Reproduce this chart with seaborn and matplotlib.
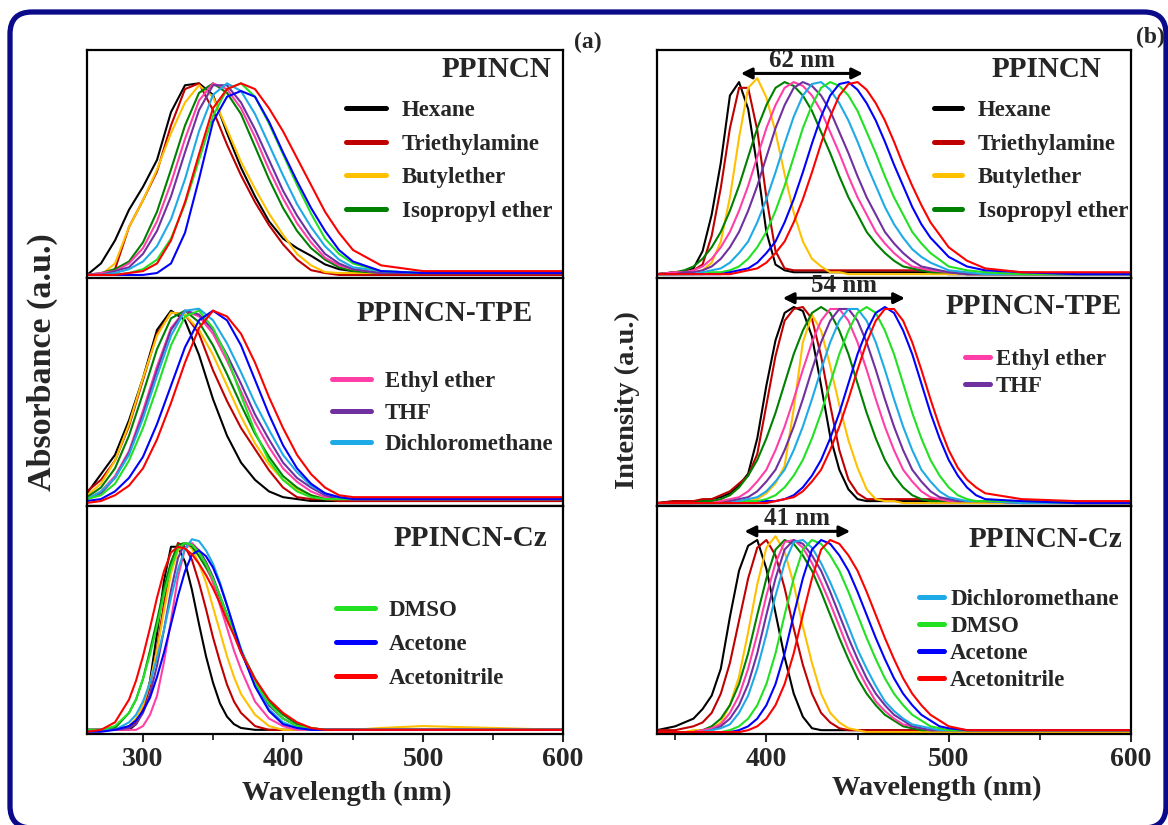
import matplotlib
matplotlib.use("Agg")
import matplotlib.pyplot as plt
import matplotlib.patches as mpatches
from matplotlib.lines import Line2D
from matplotlib.ticker import MultipleLocator
import pandas as pd
import seaborn as sns

solvents = ["Hexane", "Triethylamine", "Butylether", "Isopropyl ether", "Ethyl ether",
            "THF", "Dichloromethane", "DMSO", "Acetone", "Acetonitrile"]
colors = ["#000000", "#C00000", "#FFC000", "#008000", "#FF3EA8",
          "#7030A0", "#1EAAE6", "#22E022", "#0000FF", "#FF0000"]

# ---- absorption, PPINCN and PPINCN-TPE (nm) ----
abs_wl = [260, 270, 280, 290, 300, 310, 320, 330, 340, 350, 360, 370, 380, 390, 400,
          410, 420, 430, 440, 450, 470, 500, 550, 600]

abs_ppincn = {
    "Hexane": [0.0, 0.06, 0.18, 0.34, 0.46, 0.6, 0.85, 0.99, 1.0, 0.94, 0.74, 0.56, 0.41, 0.28, 0.19, 0.14, 0.1, 0.055, 0.03, 0.02, 0.01, 0.01, 0.01, 0.01],
    "Triethylamine": [0.0, 0.0, 0.03, 0.25, 0.39, 0.54, 0.78, 0.97, 1.0, 0.86, 0.68, 0.52, 0.38, 0.26, 0.16, 0.08, 0.025, 0.01, 0.0, 0.0, 0.0, 0.0, 0.0, 0.0],
    "Butylether": [0.0, 0.0, 0.06, 0.25, 0.39, 0.55, 0.74, 0.9, 0.99, 0.93, 0.76, 0.59, 0.45, 0.32, 0.21, 0.11, 0.05, 0.015, 0.01, 0.01, 0.01, 0.01, 0.01, 0.01],
    "Isopropyl ether": [0.0, 0.01, 0.03, 0.07, 0.17, 0.33, 0.55, 0.78, 0.95, 1.0, 0.95, 0.84, 0.67, 0.5, 0.35, 0.23, 0.14, 0.08, 0.04, 0.02, 0.01, 0.01, 0.01, 0.01],
    "Ethyl ether": [0.0, 0.01, 0.02, 0.06, 0.14, 0.28, 0.48, 0.71, 0.91, 1.0, 0.97, 0.87, 0.72, 0.55, 0.4, 0.27, 0.17, 0.09, 0.05, 0.03, 0.01, 0.01, 0.01, 0.01],
    "THF": [0.0, 0.0, 0.02, 0.04, 0.11, 0.23, 0.41, 0.64, 0.86, 0.99, 0.99, 0.9, 0.76, 0.6, 0.44, 0.31, 0.2, 0.11, 0.06, 0.03, 0.01, 0.01, 0.01, 0.01],
    "Dichloromethane": [0.0, 0.0, 0.01, 0.03, 0.07, 0.15, 0.29, 0.5, 0.75, 0.94, 1.0, 0.96, 0.84, 0.68, 0.52, 0.37, 0.25, 0.15, 0.08, 0.04, 0.02, 0.01, 0.01, 0.01],
    "DMSO": [0.0, 0.0, 0.0, 0.01, 0.03, 0.08, 0.19, 0.37, 0.6, 0.83, 0.97, 1.0, 0.93, 0.79, 0.63, 0.47, 0.32, 0.19, 0.11, 0.06, 0.02, 0.01, 0.01, 0.01],
    "Acetone": [0.0, 0.0, 0.0, 0.0, 0.0, 0.01, 0.06, 0.22, 0.5, 0.8, 0.93, 0.96, 0.93, 0.8, 0.64, 0.49, 0.35, 0.23, 0.13, 0.07, 0.02, 0.01, 0.01, 0.01],
    "Acetonitrile": [0.0, 0.0, 0.0, 0.01, 0.02, 0.06, 0.18, 0.38, 0.63, 0.87, 0.97, 1.0, 0.97, 0.87, 0.75, 0.61, 0.47, 0.33, 0.22, 0.13, 0.05, 0.02, 0.02, 0.02],
}

abs_tpe = {
    "Hexane": [0.05, 0.15, 0.25, 0.43, 0.65, 0.9, 1.0, 0.95, 0.77, 0.54, 0.35, 0.21, 0.12, 0.06, 0.03, 0.02, 0.01, 0.01, 0.01, 0.01, 0.01, 0.01, 0.01, 0.01],
    "Triethylamine": [0.06, 0.12, 0.22, 0.4, 0.64, 0.88, 0.99, 0.98, 0.88, 0.69, 0.53, 0.39, 0.28, 0.17, 0.08, 0.03, 0.02, 0.02, 0.01, 0.01, 0.01, 0.01, 0.01, 0.01],
    "Butylether": [0.04, 0.1, 0.22, 0.41, 0.65, 0.87, 0.99, 0.98, 0.9, 0.77, 0.61, 0.45, 0.31, 0.2, 0.12, 0.07, 0.04, 0.02, 0.02, 0.02, 0.02, 0.02, 0.02, 0.02],
    "Isopropyl ether": [0.03, 0.08, 0.18, 0.35, 0.57, 0.8, 0.96, 1.0, 0.94, 0.82, 0.67, 0.51, 0.36, 0.24, 0.14, 0.08, 0.04, 0.02, 0.02, 0.02, 0.02, 0.02, 0.02, 0.02],
    "Ethyl ether": [0.02, 0.06, 0.14, 0.27, 0.48, 0.71, 0.91, 1.0, 0.97, 0.88, 0.74, 0.58, 0.42, 0.29, 0.18, 0.11, 0.06, 0.03, 0.02, 0.02, 0.02, 0.02, 0.02, 0.02],
    "THF": [0.02, 0.05, 0.13, 0.26, 0.46, 0.69, 0.9, 1.0, 0.98, 0.9, 0.77, 0.62, 0.46, 0.33, 0.21, 0.13, 0.08, 0.04, 0.02, 0.02, 0.02, 0.02, 0.02, 0.02],
    "Dichloromethane": [0.02, 0.06, 0.13, 0.25, 0.44, 0.66, 0.87, 1.0, 1.01, 0.95, 0.83, 0.68, 0.52, 0.38, 0.25, 0.16, 0.09, 0.05, 0.03, 0.02, 0.02, 0.02, 0.02, 0.02],
    "DMSO": [0.02, 0.04, 0.1, 0.22, 0.39, 0.6, 0.82, 0.97, 1.0, 0.91, 0.76, 0.56, 0.37, 0.22, 0.12, 0.06, 0.03, 0.02, 0.02, 0.02, 0.02, 0.02, 0.02, 0.02],
    "Acetone": [0.01, 0.02, 0.06, 0.13, 0.24, 0.41, 0.61, 0.81, 0.95, 1.0, 0.95, 0.82, 0.64, 0.46, 0.3, 0.18, 0.1, 0.05, 0.03, 0.02, 0.02, 0.02, 0.02, 0.02],
    "Acetonitrile": [0.0, 0.01, 0.04, 0.09, 0.18, 0.33, 0.52, 0.73, 0.91, 1.0, 0.97, 0.88, 0.73, 0.55, 0.39, 0.25, 0.15, 0.08, 0.04, 0.03, 0.03, 0.03, 0.03, 0.03],
}

# ---- absorption, PPINCN-Cz (finer grid, narrow bands) ----
abs_cz_wl = [260, 270, 280, 290, 295, 300, 305, 310, 315, 320, 325, 330, 335, 340, 345, 350,
             355, 360, 365, 370, 380, 390, 400, 410, 420, 430, 440, 450, 470, 500, 550, 600]

abs_cz = {
    "Hexane": [0.01, 0.01, 0.01, 0.01, 0.04, 0.11, 0.27, 0.52, 0.8, 0.98, 0.98, 0.9, 0.75, 0.57, 0.4, 0.26, 0.15, 0.08, 0.04, 0.02, 0.01, 0.01, 0.01, 0.01, 0.01, 0.01, 0.01, 0.01, 0.01, 0.01, 0.01, 0.01],
    "Triethylamine": [0.01, 0.01, 0.01, 0.02, 0.05, 0.12, 0.24, 0.44, 0.68, 0.89, 1.0, 0.98, 0.91, 0.79, 0.65, 0.5, 0.37, 0.25, 0.16, 0.1, 0.03, 0.01, 0.01, 0.01, 0.01, 0.01, 0.01, 0.01, 0.01, 0.01, 0.01, 0.01],
    "Butylether": [0.01, 0.01, 0.01, 0.03, 0.07, 0.14, 0.26, 0.43, 0.64, 0.84, 0.96, 1.0, 0.97, 0.89, 0.79, 0.66, 0.53, 0.4, 0.29, 0.2, 0.09, 0.03, 0.01, 0.01, 0.01, 0.01, 0.01, 0.01, 0.02, 0.03, 0.02, 0.01],
    "Isopropyl ether": [0.01, 0.01, 0.02, 0.1, 0.17, 0.28, 0.43, 0.59, 0.76, 0.9, 0.99, 1.0, 0.98, 0.93, 0.87, 0.8, 0.71, 0.62, 0.52, 0.43, 0.28, 0.16, 0.09, 0.04, 0.02, 0.01, 0.01, 0.01, 0.01, 0.01, 0.01, 0.01],
    "Ethyl ether": [0.01, 0.01, 0.01, 0.01, 0.01, 0.03, 0.09, 0.19, 0.37, 0.59, 0.82, 0.97, 1.0, 0.96, 0.89, 0.79, 0.67, 0.55, 0.43, 0.33, 0.16, 0.07, 0.03, 0.01, 0.01, 0.01, 0.01, 0.01, 0.01, 0.01, 0.01, 0.01],
    "THF": [0.01, 0.01, 0.01, 0.02, 0.04, 0.1, 0.2, 0.35, 0.54, 0.75, 0.92, 1.0, 0.99, 0.96, 0.9, 0.82, 0.72, 0.62, 0.52, 0.42, 0.26, 0.14, 0.07, 0.03, 0.01, 0.01, 0.01, 0.01, 0.01, 0.01, 0.01, 0.01],
    "Dichloromethane": [0.01, 0.01, 0.01, 0.05, 0.09, 0.16, 0.26, 0.39, 0.54, 0.71, 0.86, 0.97, 1.02, 1.01, 0.96, 0.89, 0.79, 0.67, 0.55, 0.44, 0.25, 0.12, 0.05, 0.02, 0.01, 0.01, 0.01, 0.01, 0.01, 0.01, 0.01, 0.01],
    "DMSO": [0.01, 0.01, 0.03, 0.1, 0.17, 0.28, 0.41, 0.56, 0.73, 0.87, 0.97, 1.0, 0.99, 0.95, 0.89, 0.81, 0.72, 0.62, 0.52, 0.43, 0.26, 0.15, 0.07, 0.03, 0.02, 0.01, 0.01, 0.01, 0.01, 0.01, 0.01, 0.01],
    "Acetone": [0.0, 0.0, 0.01, 0.03, 0.06, 0.11, 0.18, 0.29, 0.42, 0.57, 0.72, 0.85, 0.94, 0.96, 0.93, 0.87, 0.78, 0.67, 0.55, 0.43, 0.24, 0.11, 0.04, 0.02, 0.01, 0.01, 0.01, 0.01, 0.01, 0.01, 0.01, 0.01],
    "Acetonitrile": [0.0, 0.01, 0.05, 0.17, 0.27, 0.4, 0.55, 0.71, 0.85, 0.95, 0.98, 0.97, 0.94, 0.89, 0.83, 0.76, 0.68, 0.59, 0.51, 0.42, 0.28, 0.17, 0.1, 0.05, 0.02, 0.01, 0.01, 0.01, 0.01, 0.01, 0.01, 0.01],
}

# ---- emission, PPINCN ----
em_wl = [340, 350, 355, 360, 365, 370, 375, 380, 385, 390, 395, 400, 405, 410, 415, 420, 425, 430,
         435, 440, 445, 450, 455, 460, 465, 470, 475, 480, 485, 490, 500, 510, 520, 540, 570, 600]

em_ppincn = {
    "Hexane": [0.0, 0.01, 0.01, 0.03, 0.12, 0.31, 0.58, 0.93, 1.0, 0.86, 0.56, 0.22, 0.05, 0.02, 0.01, 0.01, 0.01, 0.01, 0.01, 0.01, 0.01, 0.01, 0.01, 0.01, 0.01, 0.01, 0.01, 0.01, 0.01, 0.01, 0.0, 0.0, 0.0, 0.0, 0.0, 0.0],
    "Triethylamine": [0.0, 0.01, 0.01, 0.02, 0.05, 0.2, 0.45, 0.76, 0.97, 0.97, 0.75, 0.4, 0.12, 0.03, 0.02, 0.02, 0.02, 0.02, 0.02, 0.02, 0.02, 0.02, 0.02, 0.02, 0.02, 0.02, 0.02, 0.02, 0.02, 0.02, 0.01, 0.0, 0.0, 0.0, 0.0, 0.0],
    "Butylether": [0.0, 0.0, 0.0, 0.01, 0.02, 0.06, 0.17, 0.4, 0.71, 0.97, 1.02, 0.92, 0.74, 0.52, 0.32, 0.17, 0.08, 0.04, 0.01, 0.01, 0.0, 0.0, 0.0, 0.0, 0.0, 0.0, 0.0, 0.0, 0.0, 0.0, 0.0, 0.0, 0.0, 0.0, 0.0, 0.0],
    "Isopropyl ether": [0.0, 0.01, 0.02, 0.04, 0.08, 0.14, 0.22, 0.33, 0.46, 0.61, 0.76, 0.88, 0.97, 1.0, 0.98, 0.93, 0.85, 0.74, 0.63, 0.51, 0.4, 0.31, 0.22, 0.16, 0.11, 0.07, 0.04, 0.03, 0.02, 0.01, 0.01, 0.0, 0.0, 0.0, 0.0, 0.0],
    "Ethyl ether": [0.0, 0.01, 0.01, 0.02, 0.04, 0.08, 0.14, 0.22, 0.33, 0.46, 0.61, 0.76, 0.88, 0.97, 1.0, 0.98, 0.93, 0.85, 0.74, 0.63, 0.51, 0.4, 0.31, 0.22, 0.16, 0.11, 0.07, 0.04, 0.03, 0.02, 0.01, 0.0, 0.0, 0.0, 0.0, 0.0],
    "THF": [0.0, 0.0, 0.01, 0.01, 0.02, 0.04, 0.08, 0.14, 0.22, 0.33, 0.46, 0.61, 0.76, 0.88, 0.97, 1.0, 0.98, 0.93, 0.85, 0.74, 0.63, 0.51, 0.4, 0.31, 0.22, 0.16, 0.11, 0.07, 0.04, 0.03, 0.01, 0.0, 0.0, 0.0, 0.0, 0.0],
    "Dichloromethane": [0.0, 0.0, 0.0, 0.0, 0.01, 0.02, 0.03, 0.06, 0.11, 0.17, 0.27, 0.39, 0.53, 0.68, 0.82, 0.93, 0.99, 1.0, 0.96, 0.89, 0.8, 0.69, 0.57, 0.46, 0.35, 0.26, 0.19, 0.13, 0.09, 0.06, 0.02, 0.01, 0.0, 0.0, 0.0, 0.0],
    "DMSO": [0.0, 0.0, 0.0, 0.0, 0.0, 0.01, 0.01, 0.02, 0.04, 0.08, 0.14, 0.22, 0.33, 0.46, 0.61, 0.76, 0.88, 0.97, 1.0, 0.98, 0.93, 0.85, 0.74, 0.63, 0.51, 0.4, 0.31, 0.22, 0.16, 0.11, 0.04, 0.02, 0.01, 0.0, 0.0, 0.0],
    "Acetone": [0.0, 0.0, 0.0, 0.0, 0.0, 0.0, 0.0, 0.01, 0.02, 0.03, 0.06, 0.11, 0.17, 0.27, 0.39, 0.53, 0.68, 0.82, 0.93, 0.99, 1.0, 0.96, 0.89, 0.8, 0.69, 0.57, 0.46, 0.35, 0.26, 0.19, 0.09, 0.04, 0.02, 0.01, 0.0, 0.0],
    "Acetonitrile": [0.0, 0.0, 0.0, 0.0, 0.0, 0.0, 0.0, 0.0, 0.01, 0.02, 0.03, 0.06, 0.11, 0.17, 0.27, 0.39, 0.53, 0.68, 0.82, 0.93, 0.99, 1.0, 0.96, 0.89, 0.8, 0.69, 0.57, 0.46, 0.36, 0.27, 0.14, 0.07, 0.03, 0.01, 0.01, 0.01],
}

# ---- emission, PPINCN-TPE ----
em_tpe_wl = [340, 350, 360, 365, 370, 375, 380, 385, 390, 395, 400, 405, 410, 415, 420, 425, 430, 435, 440,
             445, 450, 455, 460, 465, 470, 475, 480, 485, 490, 495, 500, 505, 510, 515, 520, 540, 570, 600]

em_tpe = {
    "Hexane": [0.0, 0.01, 0.01, 0.01, 0.02, 0.03, 0.05, 0.09, 0.15, 0.33, 0.6, 0.83, 0.97, 1.0, 0.98, 0.85, 0.6, 0.34, 0.17, 0.07, 0.02, 0.01, 0.01, 0.01, 0.01, 0.01, 0.01, 0.01, 0.01, 0.01, 0.01, 0.01, 0.01, 0.01, 0.01, 0.01, 0.0, 0.0],
    "Triethylamine": [0.0, 0.01, 0.01, 0.02, 0.02, 0.04, 0.06, 0.1, 0.14, 0.25, 0.5, 0.75, 0.93, 0.99, 1.0, 0.94, 0.75, 0.5, 0.27, 0.12, 0.05, 0.02, 0.02, 0.02, 0.02, 0.02, 0.02, 0.02, 0.02, 0.02, 0.02, 0.01, 0.01, 0.01, 0.01, 0.01, 0.0, 0.0],
    "Butylether": [0.0, 0.0, 0.0, 0.0, 0.01, 0.01, 0.01, 0.01, 0.01, 0.02, 0.05, 0.1, 0.19, 0.48, 0.82, 0.96, 0.88, 0.7, 0.5, 0.32, 0.18, 0.07, 0.02, 0.01, 0.01, 0.0, 0.0, 0.0, 0.0, 0.0, 0.0, 0.0, 0.0, 0.0, 0.0, 0.0, 0.0, 0.0],
    "Isopropyl ether": [0.0, 0.0, 0.0, 0.01, 0.01, 0.02, 0.04, 0.08, 0.14, 0.22, 0.33, 0.46, 0.61, 0.76, 0.88, 0.97, 1.0, 0.97, 0.88, 0.76, 0.61, 0.46, 0.33, 0.22, 0.14, 0.08, 0.04, 0.02, 0.01, 0.01, 0.01, 0.01, 0.01, 0.01, 0.01, 0.01, 0.0, 0.0],
    "Ethyl ether": [0.0, 0.0, 0.0, 0.0, 0.0, 0.01, 0.02, 0.03, 0.06, 0.11, 0.17, 0.27, 0.39, 0.53, 0.68, 0.82, 0.93, 0.99, 0.99, 0.93, 0.82, 0.68, 0.53, 0.39, 0.27, 0.17, 0.11, 0.06, 0.03, 0.02, 0.01, 0.01, 0.01, 0.01, 0.01, 0.0, 0.0, 0.0],
    "THF": [0.0, 0.0, 0.0, 0.0, 0.0, 0.0, 0.01, 0.02, 0.03, 0.06, 0.11, 0.17, 0.27, 0.39, 0.53, 0.68, 0.82, 0.93, 0.99, 0.99, 0.93, 0.82, 0.68, 0.53, 0.39, 0.27, 0.17, 0.11, 0.06, 0.03, 0.02, 0.01, 0.01, 0.01, 0.01, 0.0, 0.0, 0.0],
    "Dichloromethane": [0.0, 0.0, 0.0, 0.0, 0.0, 0.0, 0.0, 0.01, 0.02, 0.03, 0.06, 0.11, 0.17, 0.27, 0.39, 0.53, 0.68, 0.82, 0.93, 0.99, 0.99, 0.93, 0.82, 0.68, 0.53, 0.39, 0.27, 0.17, 0.11, 0.06, 0.03, 0.02, 0.01, 0.01, 0.01, 0.0, 0.0, 0.0],
    "DMSO": [0.0, 0.0, 0.0, 0.0, 0.0, 0.0, 0.0, 0.0, 0.01, 0.01, 0.02, 0.04, 0.08, 0.14, 0.22, 0.33, 0.46, 0.61, 0.76, 0.88, 0.97, 1.0, 0.97, 0.88, 0.76, 0.61, 0.46, 0.33, 0.22, 0.14, 0.08, 0.04, 0.02, 0.01, 0.01, 0.01, 0.0, 0.0],
    "Acetone": [0.0, 0.0, 0.0, 0.0, 0.0, 0.0, 0.0, 0.0, 0.0, 0.0, 0.01, 0.01, 0.02, 0.04, 0.08, 0.14, 0.22, 0.33, 0.46, 0.61, 0.76, 0.88, 0.97, 1.0, 0.97, 0.88, 0.76, 0.61, 0.46, 0.33, 0.22, 0.14, 0.08, 0.04, 0.02, 0.01, 0.0, 0.0],
    "Acetonitrile": [0.0, 0.0, 0.0, 0.0, 0.0, 0.0, 0.0, 0.0, 0.0, 0.0, 0.0, 0.01, 0.02, 0.03, 0.06, 0.11, 0.17, 0.27, 0.39, 0.53, 0.68, 0.82, 0.93, 0.99, 0.99, 0.93, 0.82, 0.68, 0.53, 0.39, 0.27, 0.18, 0.12, 0.08, 0.05, 0.02, 0.01, 0.01],
}

# ---- emission, PPINCN-Cz ----
em_cz_wl = [340, 350, 355, 360, 365, 370, 375, 380, 385, 390, 395, 400, 405, 410, 415, 420, 425, 430, 435,
            440, 445, 450, 455, 460, 465, 470, 475, 480, 485, 490, 495, 500, 510, 520, 540, 570, 600]

em_cz = {
    "Hexane": [0.01, 0.03, 0.05, 0.07, 0.12, 0.19, 0.33, 0.6, 0.84, 0.97, 1.0, 0.85, 0.62, 0.39, 0.2, 0.08, 0.02, 0.01, 0.01, 0.01, 0.01, 0.01, 0.01, 0.01, 0.01, 0.01, 0.01, 0.01, 0.01, 0.01, 0.01, 0.01, 0.01, 0.01, 0.01, 0.01, 0.01],
    "Triethylamine": [0.01, 0.01, 0.02, 0.03, 0.05, 0.1, 0.2, 0.36, 0.58, 0.8, 0.96, 1.0, 0.92, 0.75, 0.54, 0.35, 0.2, 0.1, 0.05, 0.02, 0.01, 0.01, 0.01, 0.01, 0.01, 0.01, 0.01, 0.01, 0.01, 0.01, 0.01, 0.01, 0.01, 0.01, 0.01, 0.01, 0.01],
    "Butylether": [0.0, 0.0, 0.0, 0.01, 0.01, 0.02, 0.05, 0.14, 0.29, 0.52, 0.77, 0.96, 1.02, 0.94, 0.77, 0.55, 0.36, 0.2, 0.1, 0.05, 0.02, 0.01, 0.0, 0.0, 0.0, 0.0, 0.0, 0.0, 0.0, 0.0, 0.0, 0.0, 0.0, 0.0, 0.0, 0.0, 0.0],
    "Isopropyl ether": [0.0, 0.0, 0.0, 0.0, 0.01, 0.03, 0.07, 0.14, 0.25, 0.41, 0.61, 0.8, 0.95, 1.0, 0.98, 0.92, 0.84, 0.73, 0.61, 0.49, 0.38, 0.28, 0.2, 0.14, 0.09, 0.06, 0.03, 0.02, 0.01, 0.01, 0.01, 0.01, 0.01, 0.01, 0.01, 0.01, 0.01],
    "Ethyl ether": [0.0, 0.0, 0.0, 0.0, 0.01, 0.02, 0.04, 0.1, 0.19, 0.33, 0.51, 0.71, 0.88, 0.99, 1.0, 0.96, 0.88, 0.78, 0.67, 0.55, 0.43, 0.33, 0.24, 0.16, 0.11, 0.07, 0.04, 0.03, 0.02, 0.01, 0.01, 0.01, 0.01, 0.01, 0.01, 0.01, 0.01],
    "THF": [0.0, 0.0, 0.0, 0.0, 0.0, 0.01, 0.03, 0.07, 0.14, 0.25, 0.41, 0.61, 0.8, 0.95, 1.0, 0.98, 0.92, 0.84, 0.73, 0.61, 0.49, 0.38, 0.28, 0.2, 0.14, 0.09, 0.06, 0.03, 0.02, 0.01, 0.01, 0.01, 0.01, 0.01, 0.01, 0.01, 0.01],
    "Dichloromethane": [0.0, 0.0, 0.0, 0.0, 0.0, 0.01, 0.02, 0.04, 0.1, 0.19, 0.33, 0.51, 0.71, 0.88, 0.99, 1.0, 0.96, 0.88, 0.78, 0.67, 0.55, 0.43, 0.33, 0.24, 0.16, 0.11, 0.07, 0.04, 0.03, 0.02, 0.01, 0.01, 0.01, 0.01, 0.01, 0.01, 0.01],
    "DMSO": [0.0, 0.0, 0.0, 0.0, 0.0, 0.0, 0.0, 0.01, 0.03, 0.07, 0.14, 0.25, 0.41, 0.61, 0.8, 0.95, 1.0, 0.98, 0.92, 0.84, 0.73, 0.61, 0.49, 0.38, 0.28, 0.2, 0.14, 0.09, 0.06, 0.03, 0.02, 0.01, 0.01, 0.01, 0.01, 0.01, 0.01],
    "Acetone": [0.0, 0.0, 0.0, 0.0, 0.0, 0.0, 0.0, 0.0, 0.01, 0.03, 0.07, 0.14, 0.25, 0.41, 0.61, 0.8, 0.95, 1.0, 0.98, 0.92, 0.84, 0.73, 0.61, 0.49, 0.38, 0.28, 0.2, 0.14, 0.09, 0.06, 0.03, 0.02, 0.01, 0.01, 0.01, 0.01, 0.01],
    "Acetonitrile": [0.0, 0.0, 0.0, 0.0, 0.0, 0.0, 0.0, 0.0, 0.0, 0.01, 0.03, 0.07, 0.14, 0.25, 0.41, 0.61, 0.8, 0.95, 1.0, 0.98, 0.92, 0.84, 0.73, 0.61, 0.49, 0.38, 0.28, 0.2, 0.14, 0.09, 0.06, 0.03, 0.01, 0.01, 0.01, 0.01, 0.01],
}

# Stokes-shift span arrows (nm) and their labels
shift_spans = [(386, 453), (409, 476), (388, 446)]
shift_labels = ["62 nm", "54 nm", "41 nm"]


def spectra_frame(wl, curves):
    df = pd.DataFrame({"Wavelength": wl})
    for name in solvents:
        df[name] = curves[name]
    return df.melt(id_vars="Wavelength", var_name="Solvent", value_name="Signal")


def draw_panel(ax, wl, curves, xlim, ylim):
    sns.lineplot(data=spectra_frame(wl, curves), x="Wavelength", y="Signal", hue="Solvent",
                 hue_order=solvents, palette=colors, linewidth=1.5, legend=False,
                 estimator=None, ax=ax)
    ax.set_xlim(*xlim)
    ax.set_ylim(*ylim)
    ax.set_xlabel("")
    ax.set_ylabel("")
    ax.set_yticks([])
    for spine in ax.spines.values():
        spine.set_linewidth(1.6)
        spine.set_color("black")


def add_legend(ax, names, anchor, hlen, hpad, lspace):
    handles = [Line2D([], [], color=colors[solvents.index(n)], lw=3.6) for n in names]
    ax.legend(handles, names, loc="upper left", bbox_to_anchor=anchor, frameon=False,
              fontsize=16.5, handlelength=hlen, handletextpad=hpad, labelspacing=lspace,
              borderpad=0, borderaxespad=0)


sns.set_style("white")
plt.rcParams["font.family"] = ["Liberation Serif", "DejaVu Serif"]
plt.rcParams["font.weight"] = "bold"

W, H = 1168, 825
fig = plt.figure(figsize=(W / 100, H / 100), dpi=100)

tops = [50, 278, 506]
panel_h = 228


def make_axes(x0, width, top):
    return fig.add_axes([x0 / W, 1 - (top + panel_h) / H, width / W, panel_h / H])


# left column: absorption
abs_panels = [
    (abs_wl, abs_ppincn, (-0.016, 1.174), "PPINCN", (0.975, 0.916), solvents[0:4], (0.544, 0.782), 1.75, 0.68, 0.56),
    (abs_wl, abs_tpe, (-0.016, 1.17), "PPINCN-TPE", (0.937, 0.846), solvents[4:7], (0.515, 0.592), 1.7, 0.6, 0.46),
    (abs_cz_wl, abs_cz, (-0.012, 1.196), "PPINCN-Cz", (0.966, 0.858), solvents[7:10], (0.523, 0.587), 1.7, 0.6, 0.56),
]
abs_axes = []
for top, (wl, curves, ylim, title, txy, names, anchor, hl, hp, ls) in zip(tops, abs_panels):
    ax = make_axes(87, 476, top)
    draw_panel(ax, wl, curves, (260, 600), ylim)
    ax.text(txy[0], txy[1], title, transform=ax.transAxes, ha="right", va="center",
            fontsize=21, fontweight="bold")
    add_legend(ax, names, anchor, hl, hp, ls)
    abs_axes.append(ax)

# right column: emission
em_panels = [
    (em_wl, em_ppincn, (-0.02, 1.167), "PPINCN", (0.937, 0.916), solvents[0:4], (0.584, 0.782), 1.25, 0.68, 0.56),
    (em_tpe_wl, em_tpe, (-0.015, 1.148), "PPINCN-TPE", (0.981, 0.877), solvents[4:6], (0.65, 0.688), 1.1, 0.25, 0.27),
    (em_cz_wl, em_cz, (-0.01, 1.177), "PPINCN-Cz", (0.981, 0.854), solvents[6:10], (0.553, 0.638), 1.1, 0.25, 0.27),
]
em_axes = []
for i, (top, (wl, curves, ylim, title, txy, names, anchor, hl, hp, ls)) in enumerate(zip(tops, em_panels)):
    ax = make_axes(657, 474, top)
    draw_panel(ax, wl, curves, (340, 600), ylim)
    ax.text(txy[0], txy[1], title, transform=ax.transAxes, ha="right", va="center",
            fontsize=21, fontweight="bold")
    add_legend(ax, names, anchor, hl, hp, ls)
    start, end = shift_spans[i]
    ax.annotate("", xy=(end, 1.045), xytext=(start, 1.045),
                arrowprops=dict(arrowstyle="<|-|>", color="black", lw=2.2,
                                mutation_scale=16, shrinkA=0, shrinkB=0))
    ax.text((start + end) / 2, 1.11, shift_labels[i], ha="center", va="center",
            fontsize=18, fontweight="bold")
    em_axes.append(ax)

for axes in (abs_axes, em_axes):
    for ax in axes[:-1]:
        ax.tick_params(bottom=False, labelbottom=False, left=False)
    bottom = axes[-1]
    bottom.xaxis.set_major_locator(MultipleLocator(100))
    bottom.xaxis.set_minor_locator(MultipleLocator(50))
    bottom.tick_params(axis="x", which="major", direction="out", length=6, width=1.5,
                       labelsize=20, pad=3, bottom=True)
    bottom.tick_params(axis="x", which="minor", direction="out", length=4, width=1.3, bottom=True)
    bottom.tick_params(left=False)
    for lab in bottom.get_xticklabels():
        lab.set_fontweight("bold")

fig.text(347 / W, 1 - 793 / H, "Wavelength (nm)", ha="center", va="center", fontsize=20.5, fontweight="bold")
fig.text(937 / W, 1 - 788 / H, "Wavelength (nm)", ha="center", va="center", fontsize=20.5, fontweight="bold")
fig.text(42 / W, 1 - 362 / H, "Absorbance (a.u.)", rotation=90, ha="center", va="center", fontsize=24.5, fontweight="bold")
fig.text(627 / W, 1 - 400 / H, "Intensity (a.u.)", rotation=90, ha="center", va="center", fontsize=20.5, fontweight="bold")
fig.text(588 / W, 1 - 42 / H, "(a)", ha="center", va="center", fontsize=17, fontweight="bold")
fig.text(1150 / W, 1 - 37 / H, "(b)", ha="center", va="center", fontsize=17, fontweight="bold")

# rounded navy frame around the whole figure (pixel coordinates)
frame = mpatches.FancyBboxPatch((10, -3), 1156, 816, boxstyle="round,pad=0,rounding_size=22",
                                transform=None, fill=False, edgecolor="#0B0B8A", lw=3.8)
fig.add_artist(frame)

fig.savefig("out.png", dpi=100)
plt.close(fig)
